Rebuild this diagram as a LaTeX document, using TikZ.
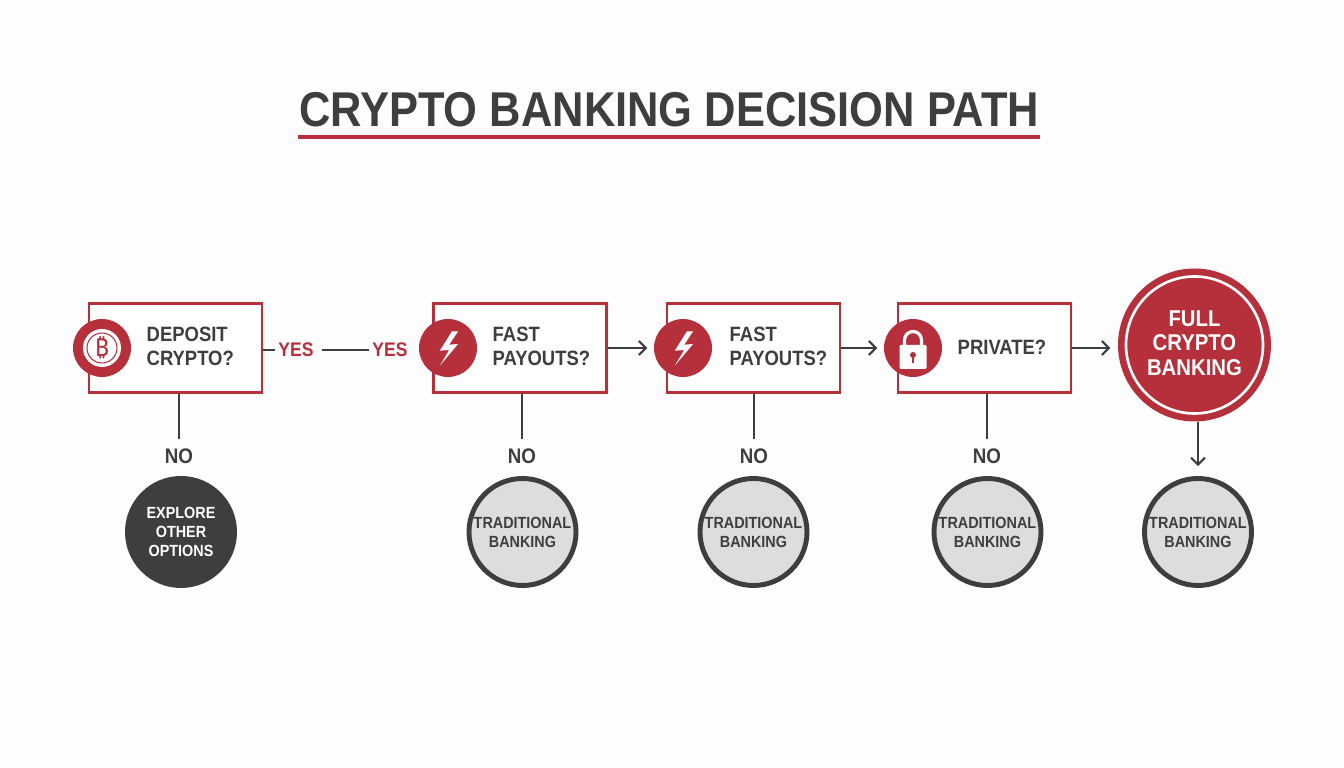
\documentclass[tikz,border=0pt]{standalone}
\usepackage{fontspec}
\setmainfont[FakeStretch=0.89]{Liberation Sans}
\newfontfamily\coinfont{Noto Sans}
\usepackage{xcolor}
\usetikzlibrary{arrows.meta,positioning,calc}
\definecolor{bankred}{HTML}{B5303A}
\definecolor{bankdark}{HTML}{3C3E40}
\definecolor{bankgrey}{HTML}{DCDDDE}
\definecolor{bankpaper}{HTML}{FDFDFD}
\tikzset{
    question/.style={draw=bankred, line width=0.8pt, rectangle, fill=white, minimum width=1.73cm, minimum height=0.89cm},
    icon/.style={circle, fill=bankred, minimum size=0.58cm, inner sep=0pt},
    label/.style={text=bankdark, font=\fontsize{5.9}{6.9}\selectfont\bfseries, align=left, inner sep=0pt},
    yes/.style={text=bankred, font=\fontsize{5.6}{6.9}\selectfont\bfseries, inner sep=0pt},
    no/.style={text=bankdark, font=\fontsize{6}{6.9}\selectfont\bfseries, inner sep=0pt},
    tradition/.style={draw=bankdark, line width=1.4pt, circle, fill=bankgrey, minimum size=1.07cm, inner sep=0pt, text=bankdark, align=center, font=\fontsize{4.6}{5.4}\selectfont\bfseries},
    explore/.style={circle, fill=bankdark, minimum size=1.12cm, inner sep=0pt, text=white, align=center, font=\fontsize{4.6}{5.5}\selectfont\bfseries},
    arrow/.style={-{Straight Barb[length=0.07cm,width=0.14cm]}, line width=0.6pt, draw=bankdark},
    link/.style={line width=0.6pt, draw=bankdark}
}
\begin{document}
\begin{tikzpicture}
    \useasboundingbox[fill=bankpaper] (0,0) rectangle (13.44,7.68);

    \node[text=bankdark, font=\fontsize{13.9}{15}\selectfont\bfseries, inner sep=0pt] (title) at (6.69,6.58) {CRYPTO BANKING DECISION PATH};
    \draw[bankred, line width=0.9pt] (title.west |- 0,6.31) -- (title.east |- 0,6.31);

    % question boxes
    \node[question] (deposit) at (1.755,4.2) {};
    \node[question] (fastone) at (5.2,4.2) {};
    \node[question] (fasttwo) at (7.535,4.2) {};
    \node[question] (private) at (9.845,4.2) {};

    \node[icon] (coin) at (1.02,4.2) {};
    \node[icon] (boltone) at (4.48,4.2) {};
    \node[icon] (bolttwo) at (6.83,4.2) {};
    \node[icon] (lock) at (9.13,4.2) {};

    \node[label, anchor=west] (deposittext) at (1.46,4.22) {DEPOSIT\\CRYPTO?};
    \node[label, anchor=west] (fastonetext) at (4.92,4.22) {FAST\\PAYOUTS?};
    \node[label, anchor=west] (fasttwotext) at (7.29,4.22) {FAST\\PAYOUTS?};
    \node[label] (privatetext) at (10.02,4.21) {PRIVATE?};

    % icon glyphs
    \fill[white] (coin) circle (0.19);
    \draw[bankred, line width=0.3pt] (coin) circle (0.15);
    \node[text=bankred, inner sep=0pt, font=\fontsize{7}{7}\coinfont\bfseries] (coinmark) at (coin) {₿};
    \foreach \n in {boltone,bolttwo} {
        \fill[white, shift={(\n.center)}] (0.04,0.167) -- (-0.082,-0.027) -- (0.012,-0.02) -- (-0.082,-0.177) -- (0.101,0.04) -- (0.012,0.033) -- (0.101,0.167) -- cycle;
    }
    \fill[white, rounded corners=0.3pt] ($(lock)+(-0.135,-0.21)$) rectangle ($(lock)+(0.135,0.03)$);
    \draw[white, line width=0.9pt] ($(lock)+(-0.085,0.03)$) -- ++(0,0.05) arc (180:0:0.085) -- ++(0,-0.05);
    \fill[bankred] ($(lock)+(0,-0.07)$) circle (0.03);
    \fill[bankred] ($(lock)+(-0.014,-0.15)$) rectangle ($(lock)+(0.014,-0.07)$);

    % yes row
    \node[yes] (yesone) at (2.96,4.18) {YES};
    \node[yes] (yestwo) at (3.9,4.18) {YES};
    \draw[link] (deposit.east |- yesone) -- ++(0.12,0);
    \draw[link] (yesone.east) ++(0.08,0) -- ($(yestwo.west)+(-0.03,0)$);

    % final
    \node[circle, fill=bankred, minimum size=1.53cm, inner sep=0pt] (full) at (11.945,4.23) {};
    \draw[white, line width=0.75pt] (full) circle (0.685);
    \node[text=white, align=center, font=\fontsize{6.5}{7}\selectfont\bfseries, inner sep=0pt] (fulltext) at (11.945,4.25) {FULL\\CRYPTO\\BANKING};

    \draw[arrow] (fastone.east) -- ($(bolttwo.west)+(-0.06,0)$);
    \draw[arrow] (fasttwo.east) -- ($(lock.west)+(-0.06,0)$);
    \draw[arrow] (private.east) -- ($(full.west)+(-0.07,-0.03)$);

    % no row
    \node[explore] (other) at (1.81,2.36) {EXPLORE\\OTHER\\OPTIONS};
    \node[tradition] (tradone) at (5.225,2.36) {TRADITIONAL\\BANKING};
    \node[tradition] (tradtwo) at (7.535,2.36) {TRADITIONAL\\BANKING};
    \node[tradition] (tradthree) at (9.875,2.36) {TRADITIONAL\\BANKING};
    \node[tradition] (tradfour) at (11.98,2.36) {TRADITIONAL\\BANKING};

    \node[no] (noone) at (1.79,3.12) {NO};
    \node[no] (notwo) at (5.22,3.12) {NO};
    \node[no] (nothree) at (7.54,3.12) {NO};
    \node[no] (nofour) at (9.87,3.12) {NO};

    \draw[link] (noone |- deposit.south) -- ($(noone.north)+(0,0.09)$);
    \draw[link] (notwo |- fastone.south) -- ($(notwo.north)+(0,0.09)$);
    \draw[link] (nothree |- fasttwo.south) -- ($(nothree.north)+(0,0.09)$);
    \draw[link] (nofour |- private.south) -- ($(nofour.north)+(0,0.09)$);
    \draw[arrow] (tradfour |- full.south) -- ($(tradfour.north)+(0,0.1)$);
\end{tikzpicture}
\end{document}
